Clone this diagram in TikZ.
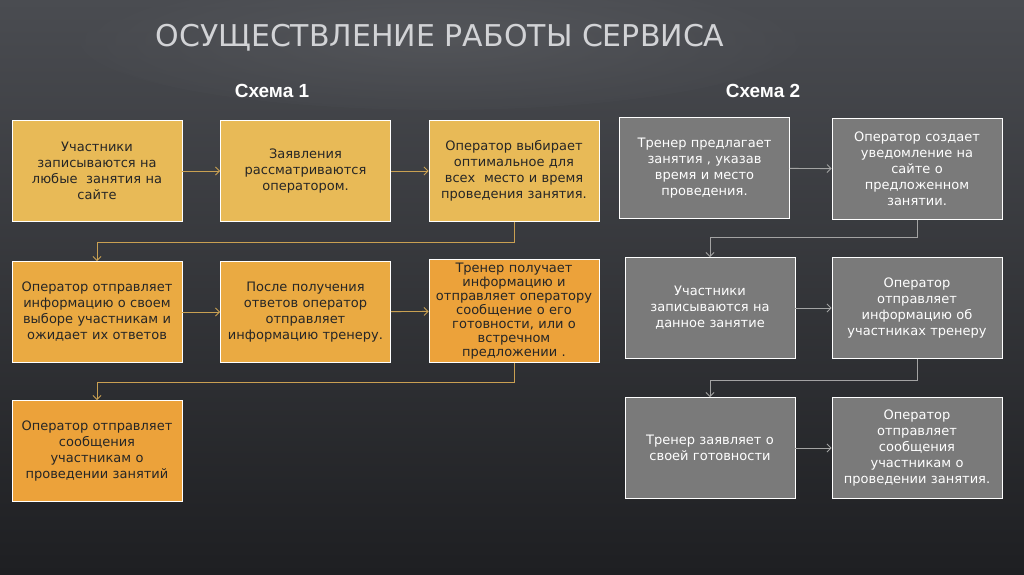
\documentclass[tikz,border=0pt]{standalone}
\usepackage{fontspec}
\setmainfont{DejaVu Sans}
\newfontfamily\headfont{Liberation Sans}
\usetikzlibrary{arrows.meta}

\definecolor{bgtop}{HTML}{4A4C51}
\definecolor{bgbot}{HTML}{1E1F22}
\definecolor{goldA}{HTML}{E8BA57}
\definecolor{goldB}{HTML}{EAAA42}
\definecolor{goldC}{HTML}{ECA23A}
\definecolor{greybox}{HTML}{7A7A7A}
\definecolor{goldline}{HTML}{C9A052}
\definecolor{greyline}{HTML}{A3A3A3}
\definecolor{titlegrey}{HTML}{D2D3D6}

\begin{document}
\begin{tikzpicture}[x=1pt, y=-1pt,
    box/.style={draw=white, line width=0.8pt, minimum width=170pt, minimum height=101pt,
      text width=162pt, align=center, inner sep=0pt, font=\fontsize{13}{16}\selectfont},
    goldbox/.style={box, text=black!85},
    greyboxst/.style={box, fill=greybox, text=white, draw=white!85},
    garrow/.style={draw=goldline, line width=0.9pt, -{Straight Barb[length=4pt,width=8pt]}},
    sarrow/.style={draw=greyline, line width=0.9pt, -{Straight Barb[length=4pt,width=8pt]}},
    head/.style={font=\headfont\bfseries\fontsize{19}{19}\selectfont, text=white}]
  \useasboundingbox (0,0) rectangle (1024,574);
  % background
  \fill[top color=bgtop, bottom color=bgbot] (0,0) rectangle (1024,574);
  \begin{scope}
    \clip (0,0) rectangle (1024,574);
    \shade[inner color=bgtop!80!white, outer color=bgtop, opacity=0.3] (440,40) ellipse (360 and 70);
  \end{scope}

  \node (title) at (440,38) {\color{titlegrey}\fontsize{30}{30}\selectfont ОСУЩЕСТВЛЕНИЕ РАБОТЫ СЕРВИСА};
  \node[head] (h1) at (272,91) {Схема 1};
  \node[head] (h2) at (763,91) {Схема 2};

  % scheme 1
  \node[goldbox, fill=goldA] (a1) at (97,171) {Участники\\записываются на\\любые \ занятия на\\сайте};
  \node[goldbox, fill=goldA] (a2) at (305.5,171) {Заявления\\рассматриваются\\оператором.};
  \node[goldbox, fill=goldA] (a3) at (514,171) {Оператор выбирает\\оптимальное для\\всех \ место и время\\проведения занятия.};
  \node[goldbox, fill=goldB] (b1) at (97,312) {Оператор отправляет\\информацию о своем\\выборе участникам и\\ожидает их ответов};
  \node[goldbox, fill=goldB] (b2) at (305.5,312) {После получения\\ответов оператор\\отправляет\\информацию тренеру.};
  \node[goldbox, fill=goldC, minimum height=103pt, font=\fontsize{13}{14}\selectfont] (b3) at (514,311) {Тренер получает\\информацию и\\отправляет оператору\\сообщение о его\\готовности, или о\\встречном\\предложении .};
  \node[goldbox, fill=goldC] (c1) at (97,451) {Оператор отправляет\\сообщения\\участникам о\\проведении занятий};

  \draw[garrow] (a1) -- (a2);
  \draw[garrow] (a2) -- (a3);
  \draw[garrow] (a3.south) -- ++(0,21) -| (b1.north);
  \draw[garrow] (b1) -- (b2);
  \draw[garrow] (b2) -- (b3);
  \draw[garrow] (b3.south) -- ++(0,20) -| (c1.north);

  % scheme 2
  \node[greyboxst] (p1) at (704.5,168) {Тренер предлагает\\занятия , указав\\время и место\\проведения.};
  \node[greyboxst] (p2) at (917,169) {Оператор создает\\уведомление на\\сайте о\\предложенном\\занятии.};
  \node[greyboxst] (q1) at (710,308) {Участники\\записываются на\\данное занятие};
  \node[greyboxst] (q2) at (917,308) {Оператор\\отправляет\\информацию об\\участниках тренеру};
  \node[greyboxst] (r1) at (710,448) {Тренер заявляет о\\своей готовности};
  \node[greyboxst] (r2) at (917,448) {Оператор\\отправляет\\сообщения\\участникам о\\проведении занятия.};

  \draw[sarrow] (p1) -- (p2);
  \draw[sarrow] (p2.south) -- ++(0,18) -| (q1.north);
  \draw[sarrow] (q1) -- (q2);
  \draw[sarrow] (q2.south) -- ++(0,22) -| (r1.north);
  \draw[sarrow] (r1) -- (r2);
\end{tikzpicture}
\end{document}
